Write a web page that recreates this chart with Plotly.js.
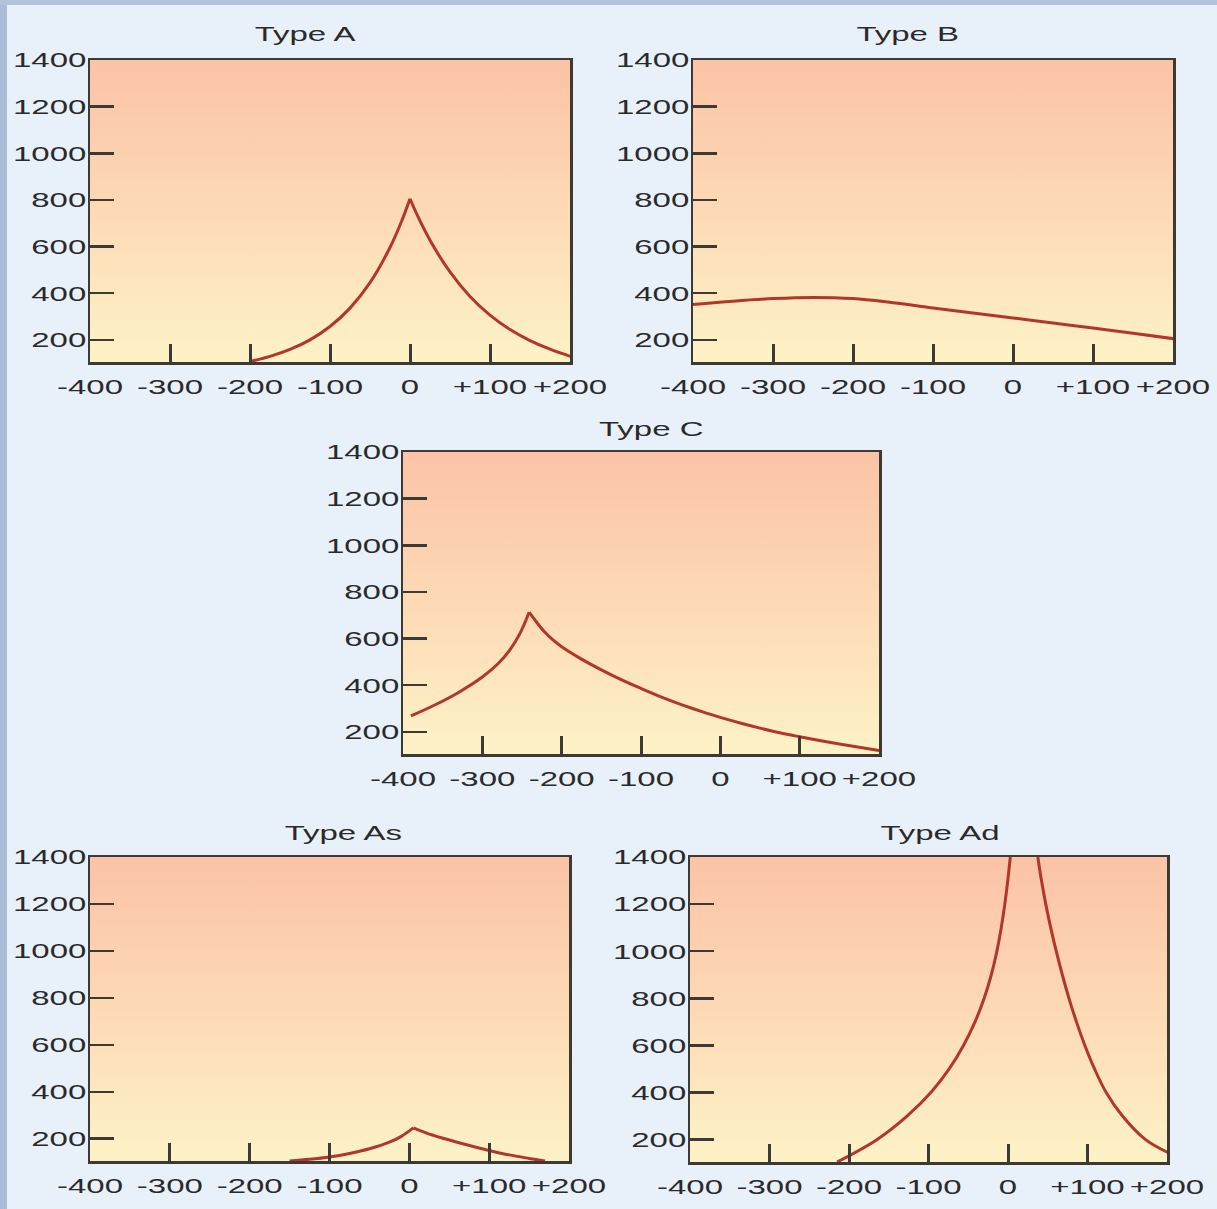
<!DOCTYPE html>
<html>
<head>
<meta charset="utf-8">
<script src="https://cdn.plot.ly/plotly-3.0.1.min.js"></script>
<style>
  html, body { margin: 0; padding: 0; background: #e8f1fa; overflow: hidden; }
  #chart { width: 1217px; height: 1209px; }
</style>
</head>
<body>
<div id="chart"></div>
<script>
// ---------------- data ----------------
const panelTitles = ['Type A', 'Type B', 'Type C', 'Type As', 'Type Ad'];

const xTickVals = [-400, -300, -200, -100, 0, 100, 200];
const xTickText = ['-400', '-300', '-200', '-100', '0', '+100', '+200'];
const yTickVals = [200, 400, 600, 800, 1000, 1200, 1400];
const yTickText = ['200', '400', '600', '800', '1000', '1200', '1400'];
const xRange = [-400, 200];
const yRange = [105, 1400];

const typeA_x = [-200, -175, -150, -125, -100, -75, -50, -25, -10, 0, 10, 25, 50, 75, 100, 125, 150, 175, 205];
const typeA_y = [107, 129, 159, 200, 257, 336, 445, 596, 713, 805, 728, 627, 491, 386, 306, 244, 197, 160, 124];

const typeB_x = [-400, -350, -300, -250, -200, -150, -100, -50, 0, 50, 100, 150, 205];
const typeB_y = [352, 366, 377, 382, 377, 359, 337, 315, 294, 272, 251, 228, 203];

const typeC_x = [-390, -360, -330, -300, -280, -265, -253, -241, -232, -222, -211, -200, -175, -150, -125, -100, -75, -50, -25, 0, 25, 50, 75, 100, 125, 150, 175, 200];
const typeC_y = [268, 315, 369, 435, 493, 553, 619, 713, 672, 630, 594, 565, 512, 466, 424, 386, 350, 318, 289, 262, 238, 216, 196, 179, 163, 148, 134, 120];

const typeAs_x = [-150, -125, -100, -75, -50, -25, -10, 5, 20, 40, 60, 80, 100, 125, 150, 170];
const typeAs_y = [105, 112, 122, 137, 157, 185, 210, 246, 226, 204, 185, 167, 150, 131, 116, 105];

const typeAd_x = [-215, -165, -127, -97, -74, -56, -41.5, -30, -21, -14, -8.5, -4, -0.3, 2.9, null,
                  37.5, 42.1, 47.5, 53.7, 60.7, 68.3, 76.7, 86.1, 96.7, 108.9, 123.5, 144, 173, 205];
const typeAd_y = [105, 200, 300, 400, 500, 600, 700, 800, 900, 1000, 1100, 1200, 1300, 1400, null,
                  1400, 1300, 1200, 1100, 1000, 900, 800, 700, 600, 500, 400, 300, 200, 139];

const seriesX = [typeA_x, typeB_x, typeC_x, typeAs_x, typeAd_x];
const seriesY = [typeA_y, typeB_y, typeC_y, typeAs_y, typeAd_y];
const hasCusp = [true, false, true, true, false];

// ---------------- layout geometry (pixels) ----------------
const W = 1217, H = 1209;
const panels = [
  {x0: 90,  x1: 570,  y0: 60,  y1: 362,  tx: 305, ty: 33},
  {x0: 693, x1: 1173, y0: 60,  y1: 362,  tx: 907, ty: 33},
  {x0: 403, x1: 879,  y0: 452, y1: 754,  tx: 651, ty: 428},
  {x0: 90,  x1: 569,  y0: 857, y1: 1161, tx: 343, ty: 832},
  {x0: 690, x1: 1167, y0: 857, y1: 1162, tx: 940, ty: 832}
];

const FONT = 'Liberation Sans, Arial, Helvetica, sans-serif';
const TEXT_COLOR = '#2a2a2a';
const LINE_COLOR = '#3d3a36';
const CURVE_COLOR = '#b0372a';
const TEXT_STRETCH = 1.57;

const traces = [];
const layout = {
  width: W, height: H,
  margin: {l: 0, r: 0, t: 0, b: 0},
  paper_bgcolor: '#e8f1fa',
  plot_bgcolor: 'rgba(0,0,0,0)',
  showlegend: false,
  annotations: [],
  shapes: [
    {type: 'rect', xref: 'paper', yref: 'paper', x0: 0, x1: 7 / W, y0: 0, y1: 1,
     fillcolor: '#a9bdd6', line: {width: 0}, layer: 'below'},
    {type: 'rect', xref: 'paper', yref: 'paper', x0: 0, x1: 1, y0: 1 - 5 / H, y1: 1,
     fillcolor: '#b2c4da', line: {width: 0}, layer: 'below'}
  ]
};

function curveTrace(xa, ya, xs, ys) {
  return {
    type: 'scatter', mode: 'lines', xaxis: xa, yaxis: ya,
    x: xs, y: ys,
    line: {color: CURVE_COLOR, width: 3, shape: 'spline', smoothing: 1},
    connectgaps: false, hoverinfo: 'x+y'
  };
}

panels.forEach((p, i) => {
  const n = i === 0 ? '' : String(i + 1);
  const xa = 'x' + n, ya = 'y' + n;

  // gradient background of the plotting area
  traces.push({
    type: 'scatter', mode: 'lines', xaxis: xa, yaxis: ya,
    x: [xRange[0], xRange[1], xRange[1], xRange[0], xRange[0]],
    y: [yRange[0], yRange[0], yRange[1], yRange[1], yRange[0]],
    fill: 'toself',
    fillgradient: {type: 'vertical',
      colorscale: [[0, '#fdf3c6'], [0.45, '#fddcb6'], [1, '#fbc3a6']]},
    line: {width: 0}, hoverinfo: 'skip'
  });

  // curve: split at the peak so the cusp stays sharp
  const xs = seriesX[i], ys = seriesY[i];
  if (hasCusp[i]) {
    let k = 0;
    ys.forEach((v, j) => { if (v !== null && v > ys[k]) k = j; });
    traces.push(curveTrace(xa, ya, xs.slice(0, k + 1), ys.slice(0, k + 1)));
    traces.push(curveTrace(xa, ya, xs.slice(k), ys.slice(k)));
  } else {
    traces.push(curveTrace(xa, ya, xs, ys));
  }

  layout['xaxis' + n] = {
    domain: [p.x0 / W, p.x1 / W], anchor: ya,
    range: xRange, tickmode: 'array', tickvals: xTickVals, ticktext: xTickText,
    ticks: 'inside', ticklen: 18, tickwidth: 3, tickcolor: LINE_COLOR,
    showline: true, linecolor: LINE_COLOR, linewidth: 2.5, mirror: true,
    showgrid: false, zeroline: false, ticklabelstandoff: 4,
    tickfont: {family: FONT, size: 21, color: TEXT_COLOR}, fixedrange: true
  };
  layout['yaxis' + n] = {
    domain: [1 - p.y1 / H, 1 - p.y0 / H], anchor: xa,
    range: yRange, tickmode: 'array', tickvals: yTickVals, ticktext: yTickText,
    ticks: 'inside', ticklen: 24, tickwidth: 2.5, tickcolor: LINE_COLOR,
    showline: true, linecolor: LINE_COLOR, linewidth: 2.5, mirror: true,
    showgrid: false, zeroline: false, ticklabelstandoff: -3,
    tickfont: {family: FONT, size: 21, color: TEXT_COLOR}, fixedrange: true
  };

  layout.annotations.push({
    xref: 'paper', yref: 'paper', x: p.tx / W, y: 1 - p.ty / H,
    xanchor: 'center', yanchor: 'middle', showarrow: false,
    text: panelTitles[i], font: {family: FONT, size: 21, color: TEXT_COLOR}
  });
});

// the reference typography is horizontally stretched; widen the glyphs of every label
function stretchText() {
  document.querySelectorAll('#chart .main-svg text').forEach(el => {
    if (!el.textContent) return;
    const w = el.getComputedTextLength();
    if (w > 0) {
      el.setAttribute('textLength', (w * TEXT_STRETCH).toFixed(1));
      el.setAttribute('lengthAdjust', 'spacingAndGlyphs');
    }
  });
}

Plotly.newPlot('chart', traces, layout, {displayModeBar: false, staticPlot: true})
  .then(stretchText);
</script>
</body>
</html>
